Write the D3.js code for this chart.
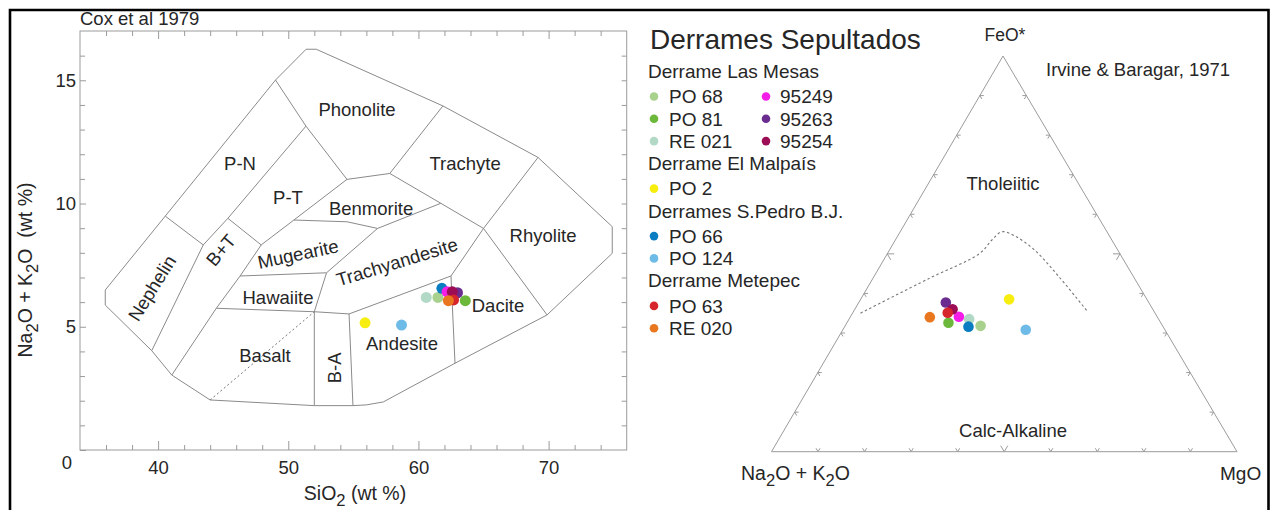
<!DOCTYPE html>
<html>
<head>
<meta charset="utf-8">
<script src="https://cdn.jsdelivr.net/npm/d3@7"></script>
<style>
  body { margin: 0; background: #fff; }
  svg text { font-family: "Liberation Sans", Arial, Helvetica, sans-serif; fill: #262626; }
</style>
</head>
<body>
<svg id="chart" width="1271" height="510"></svg>
<script>
// ---- sample data ----
var samples  = ["PO 68", "PO 81", "RE 021", "95249", "95263", "95254", "PO 2", "PO 66", "PO 124", "PO 63", "RE 020"];
var colors   = ["#a9d18e", "#6cb83a", "#b2d8c6", "#f51ee8", "#6a2d8f", "#9c0d55", "#f7ee0f", "#0a7dc2", "#6fbbe8", "#d6262b", "#e8771f"];
var groupOf  = [0, 0, 0, 0, 0, 0, 1, 2, 2, 3, 3];
var groups   = ["Derrame Las Mesas", "Derrame El Malpaís", "Derrames S.Pedro B.J.", "Derrame Metepec"];

// TAS: SiO2 and Na2O+K2O (wt %)
var sio2     = [61.5, 63.6, 60.6, 62.2, 63.0, 62.6, 55.9, 61.8, 58.7, 62.7, 62.3];
var alkalis  = [6.19, 6.06, 6.19, 6.42, 6.38, 6.42, 5.16, 6.56, 5.07, 6.09, 6.06];

// AFM: Na2O+K2O, FeO*, MgO (normalised %)
var afmA     = [39.1, 45.6, 40.7, 42.6, 43.6, 43.0, 29.6, 41.8, 29.9, 44.5, 48.9];
var afmF     = [31.8, 32.6, 33.5, 34.1, 37.7, 36.0, 38.5, 31.6, 30.8, 35.1, 34.0];
var afmM     = [29.1, 21.8, 25.8, 23.3, 18.7, 21.0, 31.9, 26.6, 39.3, 20.4, 17.1];

// draw order (later ones on top)
var drawOrder = [2, 0, 1, 7, 3, 4, 5, 9, 10, 6, 8];

// ---- Cox et al 1979 field boundaries (SiO2, alkalis) ----
var tasOuter = [[40.55,9.49],[49.02,15.01],[51.37,16.26],[52.15,16.26],[61.88,13.96],[69.19,11.87],
  [74.89,9.06],[74.89,7.98],[69.88,5.48],[62.81,3.52],[57.3,1.95],[56.0,1.83],[54.97,1.80],[52.0,1.80],
  [44.0,2.03],[41.05,3.04],[39.51,4.03],[35.94,5.88],[35.94,6.49],[40.55,9.49]];
var tasLines = [
  [[40.55,9.49],[43.47,8.32],[39.51,4.03]],
  [[43.47,8.32],[45.36,9.40],[47.92,8.32]],
  [[49.02,15.01],[51.36,13.14],[45.36,9.40]],
  [[51.36,13.14],[54.51,10.98]],
  [[47.92,8.32],[46.3,7.06],[44.47,5.75],[41.05,3.04]],
  [[47.92,8.32],[50.43,9.33],[54.51,10.98]],
  [[54.51,10.98],[57.80,11.22],[61.88,13.96]],
  [[57.80,11.22],[61.72,10.01],[65.0,8.99],[69.19,11.87]],
  [[61.72,10.01],[56.86,8.99],[54.51,9.26],[50.43,9.33]],
  [[56.86,8.99],[52.94,7.19],[52.0,5.61]],
  [[46.3,7.06],[52.94,7.19]],
  [[44.47,5.75],[52.0,5.61]],
  [[52.0,5.61],[52.0,1.80]],
  [[52.0,5.61],[54.67,5.52],[54.97,1.80]],
  [[54.67,5.52],[62.50,7.06],[65.0,8.99]],
  [[62.50,7.06],[62.81,3.52]],
  [[65.0,8.99],[69.88,5.48]]
];
var tasDotted = [[44.0,2.03],[52.0,5.61]];

var fieldNames = ["Phonolite","P-N","Trachyte","P-T","Benmorite","Rhyolite","Mugearite","Trachyandesite",
  "Nephelin","B+T","Hawaiite","Dacite","Basalt","Andesite","B-A"];
var fieldX   = [55.28, 46.29, 63.58, 49.98, 56.36, 69.57, 50.75, 58.35, 39.53, 44.83, 49.21, 66.11, 48.21, 58.74, 53.59];
var fieldY   = [13.83, 11.64, 11.64, 10.26, 9.78, 8.72, 7.95, 7.63, 6.57, 8.11, 6.17, 5.88, 3.85, 4.34, 3.33];
var fieldRot = [0, 0, 0, 0, 0, 0, -12, -17, -58, -50, 0, 0, 0, 0, -90];

// Irvine & Baragar 1971 boundary (A, F, M)
var ibA = [0.633, 0.439, 0.301, 0.2575, 0.2253, 0.2031, 0.1788, 0.1595, 0.143];
var ibF = [0.350, 0.439, 0.501, 0.535, 0.556, 0.545, 0.5097, 0.439, 0.3538];
var ibM = [0.017, 0.122, 0.198, 0.2075, 0.2187, 0.2519, 0.3115, 0.4015, 0.503];

var svg = d3.select("#chart");
var gray = "#9b9b9b";
var lineGray = "#8a8a8a";

// outer black frame
svg.append("path")
    .attr("d", "M10,510 V10 H1268.5 V510")
    .attr("fill", "none")
    .attr("stroke", "#000")
    .attr("stroke-width", 2.6);

// ================= TAS diagram =================
var x = d3.scaleLinear().domain([34, 76]).range([80, 626.7]);
var y = d3.scaleLinear().domain([0, 17]).range([450, 31]);

svg.append("rect")
    .attr("x", x(34)).attr("y", y(17))
    .attr("width", x(76) - x(34)).attr("height", y(0) - y(17))
    .attr("fill", "none").attr("stroke", gray).attr("stroke-width", 1);

function styleAxis(g) {
    g.select(".domain").remove();
    g.selectAll(".tick line").attr("stroke", gray);
    g.selectAll(".tick text").attr("fill", "#262626")
        .style("font-size", "18.5px")
        .style("font-family", "'Liberation Sans', Arial, sans-serif");
}

var minorX = d3.range(36, 76, 2).filter(function(d) { return d % 10 != 0; });
var minorY = d3.range(1, 17).filter(function(d) { return d % 5 != 0; });

svg.append("g").attr("transform", "translate(0," + y(0) + ")")
    .call(d3.axisBottom(x).tickValues(minorX).tickSize(-5).tickFormat("")).call(styleAxis);
svg.append("g").attr("transform", "translate(0," + y(0) + ")")
    .call(d3.axisBottom(x).tickValues([40, 50, 60, 70]).tickSize(-9).tickPadding(11)).call(styleAxis);
svg.append("g").attr("transform", "translate(0," + y(17) + ")")
    .call(d3.axisTop(x).tickValues(minorX).tickSize(-5).tickFormat("")).call(styleAxis);
svg.append("g").attr("transform", "translate(0," + y(17) + ")")
    .call(d3.axisTop(x).tickValues([40, 50, 60, 70]).tickSize(-8).tickFormat("")).call(styleAxis);

svg.append("g").attr("transform", "translate(" + x(34) + ",0)")
    .call(d3.axisLeft(y).tickValues(minorY).tickSize(-5).tickFormat("")).call(styleAxis);
var yMajor = svg.append("g").attr("transform", "translate(" + x(34) + ",0)")
    .call(d3.axisLeft(y).tickValues([0, 5, 10, 15]).tickSize(-6).tickPadding(4)).call(styleAxis);
// the zero label sits in the corner, below the axis line
yMajor.selectAll(".tick").filter(function(d) { return d == 0; })
    .select("text").attr("x", -8).attr("dy", "1.0em");
svg.append("g").attr("transform", "translate(" + x(76) + ",0)")
    .call(d3.axisRight(y).tickValues(d3.range(1, 17)).tickSize(-5).tickFormat("")).call(styleAxis);

// field boundaries
var tasLine = d3.line().x(function(d) { return x(d[0]); }).y(function(d) { return y(d[1]); });
svg.append("path").attr("d", tasLine(tasOuter))
    .attr("fill", "none").attr("stroke", lineGray).attr("stroke-width", 1);
svg.selectAll(".field")
    .data(tasLines)
    .enter()
    .append("path")
    .attr("class", "field")
    .attr("d", tasLine)
    .attr("fill", "none").attr("stroke", lineGray).attr("stroke-width", 1);
svg.append("path").attr("d", tasLine(tasDotted))
    .attr("fill", "none").attr("stroke", "#777").attr("stroke-width", 1)
    .attr("stroke-dasharray", "2,2.5");

svg.selectAll(".fieldName")
    .data(fieldNames)
    .enter()
    .append("text")
    .attr("class", "fieldName")
    .attr("transform", function(d, i) {
        return "translate(" + x(fieldX[i]) + "," + y(fieldY[i]) + ") rotate(" + fieldRot[i] + ")";
    })
    .attr("text-anchor", "middle")
    .attr("dy", "0.35em")
    .style("font-size", "18.5px")
    .text(function(d) { return d; });

svg.append("text").attr("x", 80).attr("y", 25).style("font-size", "18.5px").text("Cox et al 1979");

// axis titles with subscripts
function subText(sel, parts, size) {
    parts.forEach(function(p) {
        var t = sel.append("tspan").text(p[0]);
        if (p[1]) t.attr("dy", 6).style("font-size", (size * 0.85) + "px");
        else t.attr("dy", p[2] ? -6 : 0);
    });
}
var xTitle = svg.append("text").attr("x", 355).attr("y", 500)
    .attr("text-anchor", "middle").style("font-size", "19.5px");
subText(xTitle, [["SiO", 0], ["2", 1], [" (wt %)", 0, 1]], 19.5);

var yTitle = svg.append("text").attr("transform", "translate(32,270) rotate(-90)")
    .attr("text-anchor", "middle").style("font-size", "19.5px")
    .attr("xml:space", "preserve");
subText(yTitle, [["Na", 0], ["2", 1], ["O + K", 0, 1], ["2", 1], ["O  (wt %)", 0, 1]], 19.5);

// sample points
svg.selectAll(".tasPt")
    .data(drawOrder)
    .enter()
    .append("circle")
    .attr("class", "tasPt")
    .attr("cx", function(i) { return x(sio2[i]); })
    .attr("cy", function(i) { return y(alkalis[i]); })
    .attr("r", 5.5)
    .attr("fill", function(i) { return colors[i]; });

// ================= legend =================
var legend = svg.append("g");
legend.append("text").attr("x", 650).attr("y", 49).style("font-size", "28px").text("Derrames Sepultados");

var ly = 78;
groups.forEach(function(name, gi) {
    legend.append("text").attr("x", 648).attr("y", ly).style("font-size", "19px").text(name);
    var members = d3.range(samples.length).filter(function(i) { return groupOf[i] == gi; });
    var rows = gi == 0 ? 3 : members.length;
    var cy = ly + 18.5;
    members.forEach(function(s, k) {
        var col = Math.floor(k / rows), row = k % rows;
        var yy = cy + row * 22.3;
        legend.append("circle")
            .attr("cx", 654 + col * 112).attr("cy", yy).attr("r", 4.3)
            .attr("fill", colors[s]);
        legend.append("text")
            .attr("x", 669 + col * 111).attr("y", yy).attr("dy", "0.36em")
            .style("font-size", "19px").text(samples[s]);
    });
    ly = cy + (rows - 1) * 22.3 + 29;
});

// ================= AFM ternary =================
var apexOff = (1003 - 771.5) / (1237 - 771.5);
var tx = d3.scaleLinear().domain([0, 1]).range([771.5, 1237]);
var ty = d3.scaleLinear().domain([0, 1]).range([451.7, 56]);
function proj(a, f, m) {
    var s = a + f + m;
    f = f / s; m = m / s;
    return [tx(m + f * apexOff), ty(f)];
}
var vA = proj(1, 0, 0), vF = proj(0, 1, 0), vM = proj(0, 0, 1);

svg.append("path")
    .attr("d", "M" + vA + "L" + vF + "L" + vM + "Z")
    .attr("fill", "none").attr("stroke", gray).attr("stroke-width", 1);

// chevron ticks along each side, arms parallel to the other two sides
function unit(p, q) {
    var dx = q[0] - p[0], dy = q[1] - p[1], l = Math.sqrt(dx * dx + dy * dy);
    return [dx / l, dy / l];
}
var sides = [
    { from: vA, to: vM, arms: [unit(vA, vF), unit(vM, vF)] },
    { from: vA, to: vF, arms: [unit(vA, vM), unit(vF, vM)] },
    { from: vF, to: vM, arms: [unit(vM, vA), unit(vF, vA)] }
];
var tickPath = "";
sides.forEach(function(sd) {
    d3.range(1, 10).forEach(function(k) {
        var t = k / 10;
        var px = sd.from[0] + t * (sd.to[0] - sd.from[0]);
        var py = sd.from[1] + t * (sd.to[1] - sd.from[1]);
        var len = k == 5 ? 7 : 4;
        tickPath += "M" + (px + sd.arms[0][0] * len) + "," + (py + sd.arms[0][1] * len) +
            "L" + px + "," + py +
            "L" + (px + sd.arms[1][0] * len) + "," + (py + sd.arms[1][1] * len);
    });
});
svg.append("path").attr("d", tickPath)
    .attr("fill", "none").attr("stroke", gray).attr("stroke-width", 1);

// tholeiitic / calc-alkaline boundary
var ibLine = d3.line()
    .x(function(i) { return proj(ibA[i], ibF[i], ibM[i])[0]; })
    .y(function(i) { return proj(ibA[i], ibF[i], ibM[i])[1]; })
    .curve(d3.curveCatmullRom);
svg.append("path").attr("d", ibLine(d3.range(ibA.length)))
    .attr("fill", "none").attr("stroke", "#777").attr("stroke-width", 1.1)
    .attr("stroke-dasharray", "2.5,2.5");

svg.selectAll(".afmPt")
    .data(drawOrder)
    .enter()
    .append("circle")
    .attr("class", "afmPt")
    .attr("cx", function(i) { return proj(afmA[i], afmF[i], afmM[i])[0]; })
    .attr("cy", function(i) { return proj(afmA[i], afmF[i], afmM[i])[1]; })
    .attr("r", 5.3)
    .attr("fill", function(i) { return colors[i]; });

svg.append("text").attr("x", 1005).attr("y", 41).attr("text-anchor", "middle")
    .style("font-size", "17.5px").text("FeO*");
svg.append("text").attr("x", 1046).attr("y", 76).style("font-size", "18.5px").text("Irvine & Baragar, 1971");
svg.append("text").attr("x", 1003).attr("y", 190).attr("text-anchor", "middle")
    .style("font-size", "18.5px").text("Tholeiitic");
svg.append("text").attr("x", 1013).attr("y", 437).attr("text-anchor", "middle")
    .style("font-size", "18.5px").text("Calc-Alkaline");
var aLabel = svg.append("text").attr("x", 741).attr("y", 480).style("font-size", "19.5px");
subText(aLabel, [["Na", 0], ["2", 1], ["O + K", 0, 1], ["2", 1], ["O", 0, 1]], 19.5);
svg.append("text").attr("x", 1220).attr("y", 480).style("font-size", "19px").text("MgO");
</script>
</body>
</html>
